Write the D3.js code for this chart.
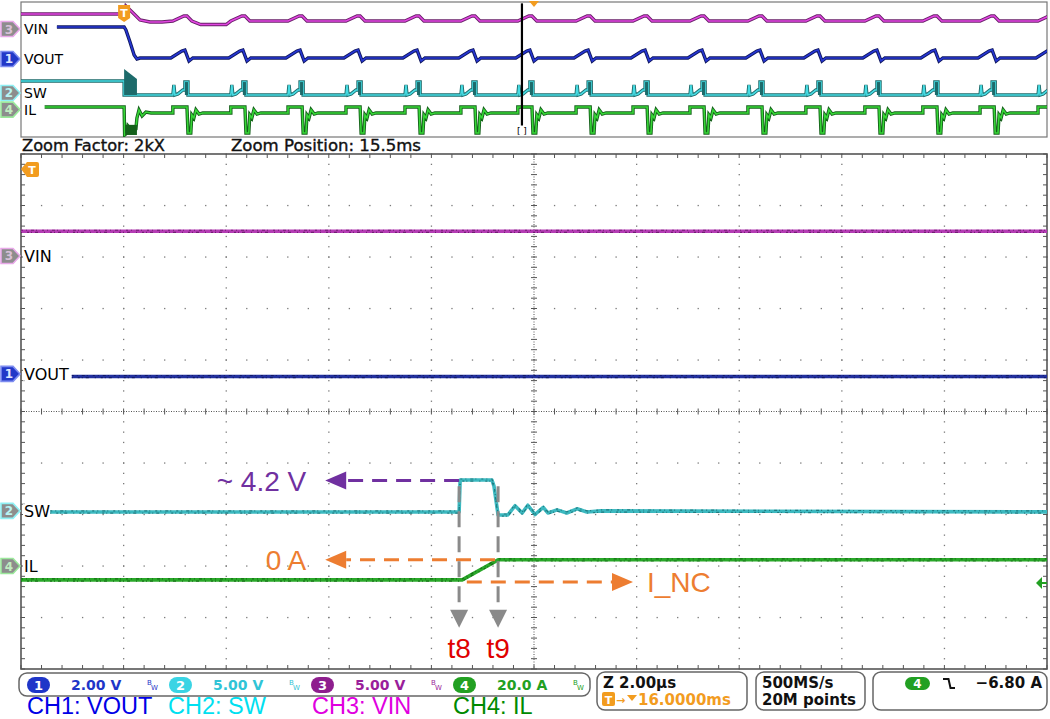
<!DOCTYPE html>
<html>
<head>
<meta charset="utf-8">
<script src="https://cdn.jsdelivr.net/npm/d3@7"></script>
<style>
body { margin: 0; background: #fff; }
svg { display: block; }
</style>
</head>
<body>
<svg id="scope" width="1050" height="719"></svg>
<script>
// ---- data ----
// main (zoomed) window: x in µs (2 µs/div), y in divisions
const mainVin = [[0, 3.50], [20, 3.50]];
const mainVout = [[0.99, 0.68], [20, 0.68]];
const mainSw = [[0.57, -1.95], [8.54, -1.95], [8.56, -1.33], [9.18, -1.33], [9.22, -1.45], [9.30, -2.01],
  [9.49, -2.01], [9.63, -1.83], [9.77, -1.97], [9.88, -1.82], [10.02, -2.0], [10.18, -1.86], [10.27, -1.97],
  [10.45, -1.91], [10.64, -1.97], [10.84, -1.89], [11.03, -1.95], [11.3, -1.93], [20, -1.95]];
const mainIl = [[0, -3.27], [8.60, -3.27], [9.30, -2.88], [20, -2.88]];

// overview window: x in ms (4 ms/div), y in divisions
const ovPeaks = [6.39, 8.65, 10.88, 13.14, 15.44, 17.62, 19.84, 22.11, 24.33, 26.55, 28.81, 31.07, 33.37, 35.63, 37.86, 40.12];
const ovVinStart = [[0, 4.11], [4.02, 4.11], [4.09, 4.70], [4.33, 4.26], [4.64, 3.67], [5.03, 3.52], [5.5, 3.52], [7.0, 3.33], [8.0, 3.33]];
const ovVinCycle = [[-0.47, 3.59], [-0.04, 3.96], [0.08, 3.96], [0.27, 3.59]];
const ovVoutStart = [[1.40, 3.15], [4.02, 3.15], [4.09, 2.93], [4.25, 2.04], [4.41, 1.07], [4.52, 0.78], [4.64, 0.85]];
const ovVoutCycle = [[-0.55, 0.85], [-0.12, 1.37], [0, 1.44], [0.16, 0.63], [0.31, 0.85]];
const ovSwStart = [[0, -0.85], [4.02, -0.85], [4.02, -1.89], [4.52, -1.89]];
const ovSwCycle = [[-0.47, -1.89], [-0.43, -1.15], [-0.39, -1.89], [-0.27, -1.81], [-0.08, -1.52], [0, -1.52],
  [0, -0.93], [0.12, -0.93], [0.12, -1.89]];
const ovIlStart = [[0.74, -2.78], [4.02, -2.78], [4.04, -4.85], [4.13, -4.70], [4.17, -4.19], [4.33, -4.55],
  [4.48, -4.40], [4.52, -3.59], [4.60, -3.00], [4.72, -3.44], [4.87, -3.15], [5.07, -3.22]];
const ovIlCycle = [[-0.47, -3.22], [-0.47, -2.78], [0.08, -2.78], [0.12, -4.70], [0.23, -4.70], [0.27, -3.37],
  [0.35, -3.59], [0.43, -2.99], [0.55, -3.30], [0.70, -3.22]];
const ovSwBurst = [4.02, 4.52, 0.04, -0.70, -1.89]; // t0, t1, top0, top1, bottom
const ovIlBurst = [4.06, 4.52, -4.1, -4.85];
const ovSwCycleBurst = [0, 0.12, -0.93, -1.89];
const ovZoomCursor = 19.53;
const ovTrigger = 4.02;

// channels: name, number, marker level (div) main / overview
const chNames = ["VIN", "VOUT", "SW", "IL"];
const chNums = ["3", "1", "2", "4"];
const mainMarkerDiv = [3.02, 0.73, -1.93, -3.0];
const ovMarkerDiv = [3.0, 0.78, -1.74, -2.97];

// annotations (main units)
const annoText = ["~ 4.2 V", "0 A", "I_NC"];
const annoFrom = [[8.54, -1.34], [9.24, -2.88], [8.69, -3.31]];
const annoTo = [[5.93, -1.34], [5.93, -2.88], [11.93, -3.31]];
const annoColor = ["#7030a0", "#ed7d31", "#ed7d31"];
const timeMarks = ["t8", "t9"];
const timeMarkAt = [8.54, 9.30];

// status bar
const chScale = ["2.00 V", "5.00 V", "5.00 V", "20.0 A"];
const chScaleNum = ["1", "2", "3", "4"];
const chLegend = ["CH1: VOUT", "CH2: SW", "CH3: VIN", "CH4: IL"];
const horizText = ["Z 2.00µs", "16.0000ms"];
const acqText = ["500MS/s", "20M points"];
const trigText = "\u22126.80 A";
const zoomText = ["Zoom Factor: 2kX", "Zoom Position: 15.5ms"];

// ---- drawing ----
const svg = d3.select("#scope");
const xMain = d3.scaleLinear().domain([0, 20]).range([21, 1047]);
const yMain = d3.scaleLinear().domain([-5, 5]).range([669, 154]);
const xOv = d3.scaleLinear().domain([0, 40]).range([21, 1047]);
const yOv = d3.scaleLinear().domain([-5, 5]).range([137, 2]);

const defs = svg.append("defs");
defs.append("clipPath").attr("id", "clipMain").append("rect")
  .attr("x", 21).attr("y", 154).attr("width", 1026).attr("height", 515);
defs.append("clipPath").attr("id", "clipOv").append("rect")
  .attr("x", 21).attr("y", 2).attr("width", 1026).attr("height", 135);

// main graticule
const grid = svg.append("g");
const gridColor = "#7a7a7a";
d3.range(1, 10).forEach(k => {
  const x = xMain(k * 2), y = yMain(-5 + k);
  if (k === 5) return;
  d3.range(0, 51).forEach(i => {
    grid.append("rect").attr("x", x - 0.6).attr("y", yMain(-5 + i * 0.2) - 0.6)
      .attr("width", 1.3).attr("height", 1.3).attr("fill", gridColor);
    grid.append("rect").attr("x", xMain(i * 0.4) - 0.6).attr("y", y - 0.6)
      .attr("width", 1.3).attr("height", 1.3).attr("fill", gridColor);
  });
});
// centre lines
grid.append("line").attr("x1", xMain(10)).attr("x2", xMain(10)).attr("y1", 154).attr("y2", 669)
  .attr("stroke", "#555").attr("stroke-dasharray", "1,1.5");
grid.append("line").attr("x1", 21).attr("x2", 1047).attr("y1", yMain(0)).attr("y2", yMain(0))
  .attr("stroke", "#555").attr("stroke-dasharray", "1,1.5");
d3.range(0, 51).forEach(i => {
  const y = yMain(-5 + i * 0.2), x = xMain(i * 0.4);
  grid.append("line").attr("x1", xMain(10) - 3).attr("x2", xMain(10) + 3).attr("y1", y).attr("y2", y)
    .attr("stroke", "#555");
  grid.append("line").attr("y1", yMain(0) - 3).attr("y2", yMain(0) + 3).attr("x1", x).attr("x2", x)
    .attr("stroke", "#555");
  // border ticks
  grid.append("line").attr("x1", 21).attr("x2", 25).attr("y1", y).attr("y2", y).attr("stroke", "#555");
  grid.append("line").attr("x1", 1043).attr("x2", 1047).attr("y1", y).attr("y2", y).attr("stroke", "#555");
  grid.append("line").attr("y1", 154).attr("y2", 158).attr("x1", x).attr("x2", x).attr("stroke", "#555");
  grid.append("line").attr("y1", 665).attr("y2", 669).attr("x1", x).attr("x2", x).attr("stroke", "#555");
});
svg.append("rect").attr("x", 21).attr("y", 154).attr("width", 1026).attr("height", 515)
  .attr("fill", "none").attr("stroke", "#555").attr("stroke-width", 1.6);

// overview frame + zoom text
svg.append("rect").attr("x", 21).attr("y", 2).attr("width", 1026).attr("height", 135)
  .attr("fill", "none").attr("stroke", "#777").attr("stroke-width", 1.2);
svg.append("text").attr("x", 22).attr("y", 151).text(zoomText[0])
  .attr("textLength", 143).attr("lengthAdjust", "spacingAndGlyphs")
  .attr("stroke", "#111").attr("stroke-width", 0.35)
  .attr("font-family", "DejaVu Sans").attr("font-size", 15).attr("fill", "#111");
svg.append("text").attr("x", 231).attr("y", 151).text(zoomText[1])
  .attr("textLength", 190).attr("lengthAdjust", "spacingAndGlyphs")
  .attr("stroke", "#111").attr("stroke-width", 0.35)
  .attr("font-family", "DejaVu Sans").attr("font-size", 15).attr("fill", "#111");

// traces
function drawTrace(g, data, xs, ys, color, dark, w) {
  const ln = d3.line().x(d => xs(d[0])).y(d => ys(d[1]));
  g.append("path").attr("d", ln(data)).attr("fill", "none").attr("stroke", color)
    .attr("stroke-width", w).attr("stroke-linejoin", "round");
  g.append("path").attr("d", ln(data)).attr("fill", "none").attr("stroke", dark)
    .attr("transform", "translate(0,-1)")
    .attr("stroke-width", 1.2).attr("stroke-dasharray", "2,3,1,4,3,2,1,5").attr("opacity", 0.75);
  g.append("path").attr("d", ln(data)).attr("fill", "none").attr("stroke", dark)
    .attr("transform", "translate(0,1.2)")
    .attr("stroke-width", 1.2).attr("stroke-dasharray", "1,5,2,2,1,3,3,6").attr("opacity", 0.75);
}
const gMain = svg.append("g").attr("clip-path", "url(#clipMain)");
drawTrace(gMain, mainVin, xMain, yMain, "#b43cb4", "#5c145c", 3.6);
drawTrace(gMain, mainVout, xMain, yMain, "#22309e", "#0c1456", 3.6);
drawTrace(gMain, mainSw, xMain, yMain, "#3cb9c0", "#15676b", 3.6);
drawTrace(gMain, mainIl, xMain, yMain, "#2aa82a", "#0d5e0d", 3.6);

// overview traces
function withCycles(start, cycle) {
  const pts = start.slice();
  ovPeaks.forEach(p => cycle.forEach(c => pts.push([p + c[0], c[1]])));
  return pts.sort((a, b) => a[0] - b[0]);
}
function drawOv(g, data, color, dark) {
  const ln = d3.line().x(d => xOv(d[0])).y(d => yOv(d[1]));
  g.append("path").attr("d", ln(data)).attr("fill", "none").attr("stroke", dark).attr("stroke-width", 3.4);
  g.append("path").attr("d", ln(data)).attr("fill", "none").attr("stroke", color).attr("stroke-width", 1.6);
}
const gOv = svg.append("g").attr("clip-path", "url(#clipOv)");
drawOv(gOv, withCycles(ovVinStart, ovVinCycle), "#e246e2", "#6a206a");
drawOv(gOv, withCycles(ovVoutStart, ovVoutCycle), "#2636d4", "#10185e");
drawOv(gOv, withCycles(ovSwStart, ovSwCycle), "#46dbe3", "#1d6b6b");
drawOv(gOv, withCycles(ovIlStart, ovIlCycle), "#36d636", "#14601a");
// burst blocks
gOv.append("path").attr("fill", "#1d6b6b")
  .attr("d", `M${xOv(ovSwBurst[0])},${yOv(ovSwBurst[2])}L${xOv(ovSwBurst[1])},${yOv(ovSwBurst[3])}` +
    `L${xOv(ovSwBurst[1])},${yOv(ovSwBurst[4])}L${xOv(ovSwBurst[0])},${yOv(ovSwBurst[4])}Z`);
gOv.append("rect").attr("fill", "#14601a")
  .attr("x", xOv(ovIlBurst[0])).attr("width", xOv(ovIlBurst[1]) - xOv(ovIlBurst[0]))
  .attr("y", yOv(ovIlBurst[2])).attr("height", yOv(ovIlBurst[3]) - yOv(ovIlBurst[2]));
ovPeaks.forEach(p => {
  gOv.append("rect").attr("fill", "#1d6b6b")
    .attr("x", xOv(p + ovSwCycleBurst[0])).attr("width", xOv(p + ovSwCycleBurst[1]) - xOv(p + ovSwCycleBurst[0]))
    .attr("y", yOv(ovSwCycleBurst[2])).attr("height", yOv(ovSwCycleBurst[3]) - yOv(ovSwCycleBurst[2]));
});
// zoom cursor
svg.append("line").attr("x1", xOv(ovZoomCursor)).attr("x2", xOv(ovZoomCursor))
  .attr("y1", yOv(4.9)).attr("y2", yOv(-4.15)).attr("stroke", "#000").attr("stroke-width", 2.2);
svg.append("text").attr("x", xOv(ovZoomCursor)).attr("y", 134).attr("text-anchor", "middle")
  .attr("font-family", "DejaVu Sans").attr("font-size", 9).text("[ ]");
svg.append("path").attr("fill", "#f29c1f")
  .attr("d", `M${xOv(20) - 5},1L${xOv(20) + 5},1L${xOv(20)},7Z`);
// overview trigger T
const tx = xOv(ovTrigger);
svg.append("path").attr("fill", "#f29c1f")
  .attr("d", `M${tx - 6},5h12v13l-6,4l-6,-4Z`);
svg.append("text").attr("x", tx).attr("y", 17).attr("text-anchor", "middle").attr("fill", "#fff")
  .attr("font-family", "DejaVu Sans").attr("font-weight", "bold").attr("font-size", 11).text("T");

// main trigger T and level marker
svg.append("path").attr("fill", "#f29c1f").attr("d", "M21,169L27,162H37Q39,162 39,164V175Q39,177 37,177H27Z");
svg.append("text").attr("x", 32).attr("y", 174).attr("text-anchor", "middle").attr("fill", "#fff")
  .attr("font-family", "DejaVu Sans").attr("font-weight", "bold").attr("font-size", 11).text("T");
svg.append("path").attr("fill", "#22a022").attr("d", "M1036,583L1042,577V589Z");
svg.append("line").attr("x1", 1041).attr("x2", 1047).attr("y1", 583).attr("y2", 583)
  .attr("stroke", "#22a022").attr("stroke-width", 2);

// channel markers + labels
const mkFill = ["#8d8d8d", "#2238c8", "#8d8d8d", "#8d8d8d"];
const mkStroke = ["#e8a8e8", "#7d8cf0", "#8ff0f4", "#9be89b"];
const mkDigit = ["#d8c0d8", "#dfe6ff", "#b8f4f4", "#c0ecc0"];
function drawMarkers(ys, divs, fs) {
  chNames.forEach((name, i) => {
    const y = ys(divs[i]);
    svg.append("path").attr("d", `M1,${y - 7.5}H13L20,${y}L13,${y + 7.5}H1Z`)
      .attr("fill", mkFill[i]).attr("stroke", mkStroke[i]).attr("stroke-width", 1.6);
    svg.append("text").attr("x", 9).attr("y", y + 4.5).attr("text-anchor", "middle")
      .attr("font-family", "DejaVu Sans").attr("font-weight", "bold").attr("font-size", 12)
      .attr("fill", mkDigit[i]).text(chNums[i]);
    svg.append("rect").attr("x", 23).attr("y", y - fs * 0.42).attr("width", name.length * fs * 0.7 + 2)
      .attr("height", fs * 0.84).attr("fill", "#fff");
    svg.append("text").attr("x", 24).attr("y", y + fs * 0.37).attr("font-family", "DejaVu Sans")
      .attr("font-size", fs).attr("fill", "#000").text(name);
  });
}
drawMarkers(yMain, mainMarkerDiv, 16);
drawMarkers(yOv, ovMarkerDiv, 14);

// annotations
const gAnn = svg.append("g");
annoText.forEach((t, i) => {
  const x0 = xMain(annoFrom[i][0]), x1 = xMain(annoTo[i][0]), y = yMain(annoTo[i][1]);
  const dir = x1 < x0 ? -1 : 1;
  const base = x1 - dir * 21;
  gAnn.append("line").attr("x1", x0).attr("x2", base).attr("y1", y).attr("y2", y)
    .attr("stroke", annoColor[i]).attr("stroke-width", 3).attr("stroke-dasharray", "15,9");
  gAnn.append("path").attr("fill", annoColor[i])
    .attr("d", `M${x1},${y}L${base},${y - 9}L${base},${y + 9}Z`);
  gAnn.append("text").attr("font-family", "Liberation Sans, Arial").attr("font-size", 28)
    .attr("fill", annoColor[i]).attr("y", y + 10)
    .attr("x", dir < 0 ? x1 - 19 : x1 + 14).attr("text-anchor", dir < 0 ? "end" : "start").text(t);
});
timeMarks.forEach((t, i) => {
  const x = xMain(timeMarkAt[i]);
  gAnn.append("line").attr("x1", x).attr("x2", x).attr("y1", yMain(-1.45)).attr("y2", yMain(-3.85))
    .attr("stroke", "#8a8a8a").attr("stroke-width", 3).attr("stroke-dasharray", "16,9");
  gAnn.append("path").attr("fill", "#8a8a8a")
    .attr("d", `M${x - 9},${yMain(-3.85)}H${x + 9}L${x},${yMain(-4.2)}Z`);
  gAnn.append("text").attr("x", x).attr("y", 658).attr("text-anchor", "middle")
    .attr("font-family", "Liberation Sans, Arial").attr("font-size", 28).attr("fill", "#e00000").text(t);
});

// status bar
const sb = svg.append("g").attr("font-family", "DejaVu Sans").attr("font-weight", "bold");
const badgeCol = ["#1f36c8", "#3ad4e4", "#8e1e8e", "#22a022"];
const valCol = ["#1f36c8", "#30c4d6", "#9a1e9a", "#22a022"];
const legCol = ["#0000e6", "#00e0f0", "#e000e0", "#008a00"];
sb.append("rect").attr("x", 19).attr("y", 673).attr("width", 571).attr("height", 23).attr("rx", 8)
  .attr("fill", "#fff").attr("stroke", "#666").attr("stroke-width", 1.5);
chScale.forEach((s, i) => {
  const bx = 27 + i * 142;
  sb.append("rect").attr("x", bx).attr("y", 677).attr("width", 23).attr("height", 16).attr("rx", 8)
    .attr("fill", badgeCol[i]);
  sb.append("text").attr("x", bx + 11.5).attr("y", 690).attr("text-anchor", "middle").attr("fill", "#fff")
    .attr("font-size", 13).text(chScaleNum[i]);
  sb.append("text").attr("x", bx + 44).attr("y", 690).attr("fill", valCol[i]).attr("font-size", 14).text(s);
  sb.append("text").attr("x", bx + 120).attr("y", 685).attr("fill", valCol[i]).attr("font-size", 7)
    .attr("font-weight", "normal").text("B");
  sb.append("text").attr("x", bx + 124).attr("y", 690).attr("fill", valCol[i]).attr("font-size", 7)
    .attr("font-weight", "normal").text("W");
  svg.append("text").attr("x", [27, 168, 312, 453][i]).attr("y", 714).attr("fill", legCol[i])
    .attr("font-family", "Liberation Sans, Arial").attr("font-size", 23.5).text(chLegend[i]);
});
// horizontal box
sb.append("rect").attr("x", 597).attr("y", 672).attr("width", 150).attr("height", 38).attr("rx", 8)
  .attr("fill", "#fff").attr("stroke", "#666").attr("stroke-width", 1.5);
sb.append("text").attr("x", 603).attr("y", 688).attr("font-size", 15).attr("fill", "#111").text(horizText[0]);
sb.append("rect").attr("x", 602).attr("y", 692).attr("width", 13).attr("height", 14).attr("rx", 2).attr("fill", "#f29c1f");
sb.append("text").attr("x", 608.5).attr("y", 704).attr("text-anchor", "middle").attr("font-size", 11)
  .attr("fill", "#fff").text("T");
sb.append("text").attr("x", 616).attr("y", 704).attr("font-size", 11).attr("fill", "#f29c1f").text("\u2192");
sb.append("path").attr("d", "M627,695H637L632,701Z").attr("fill", "#f29c1f");
sb.append("text").attr("x", 638).attr("y", 705).attr("font-size", 15).attr("fill", "#f29c1f").text(horizText[1]);
// acquisition box
sb.append("rect").attr("x", 756).attr("y", 672).attr("width", 109).attr("height", 38).attr("rx", 8)
  .attr("fill", "#fff").attr("stroke", "#666").attr("stroke-width", 1.5);
sb.append("text").attr("x", 762).attr("y", 688).attr("font-size", 15).attr("fill", "#111").text(acqText[0]);
sb.append("text").attr("x", 762).attr("y", 705).attr("font-size", 15).attr("fill", "#111").text(acqText[1]);
// trigger box
sb.append("rect").attr("x", 873).attr("y", 672).attr("width", 174).attr("height", 38).attr("rx", 8)
  .attr("fill", "#fff").attr("stroke", "#666").attr("stroke-width", 1.5);
sb.append("rect").attr("x", 905).attr("y", 677).attr("width", 25).attr("height", 13).attr("rx", 6.5)
  .attr("fill", "#22a022");
sb.append("text").attr("x", 917.5).attr("y", 688).attr("text-anchor", "middle").attr("font-size", 12)
  .attr("fill", "#fff").text("4");
sb.append("path").attr("d", "M943,679H948.5L950.5,688H955").attr("fill", "none").attr("stroke", "#111")
  .attr("stroke-width", 2);
sb.append("text").attr("x", 1042).attr("y", 688).attr("text-anchor", "end").attr("font-size", 15)
  .attr("fill", "#111").text(trigText);
</script>
</body>
</html>
